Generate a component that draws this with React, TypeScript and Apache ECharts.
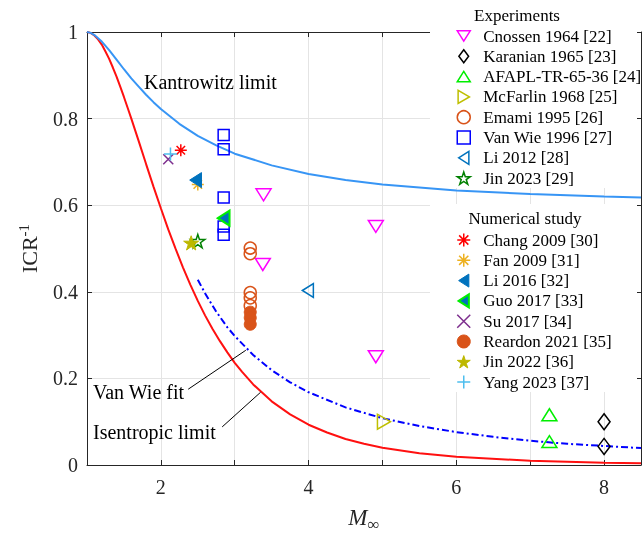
import React, { useEffect, useRef } from "react";
import * as echarts from "echarts";

const FONT = '"Liberation Serif", "Times New Roman", serif';

// Theoretical / fitted curves
const kantM = [1, 1.05, 1.1, 1.2, 1.3, 1.4, 1.5, 1.6, 1.7, 1.8, 1.9, 2, 2.25, 2.5, 2.75, 3, 3.5, 4, 4.5, 5, 6, 7, 8, 8.5];
const kantV = [1, 0.998, 0.993, 0.978, 0.958, 0.936, 0.914, 0.893, 0.874, 0.855, 0.838, 0.822, 0.788, 0.76, 0.738, 0.719, 0.692, 0.672, 0.658, 0.648, 0.634, 0.626, 0.62, 0.618];
const isoM = [1, 1.05, 1.1, 1.15, 1.2, 1.25, 1.3, 1.35, 1.4, 1.45, 1.5, 1.55, 1.6, 1.65, 1.7, 1.8, 1.9, 2, 2.1, 2.2, 2.3, 2.4, 2.5, 2.6, 2.7, 2.8, 2.9, 3, 3.1, 3.25, 3.5, 3.75, 4, 4.25, 4.5, 4.75, 5, 5.5, 6, 7, 8, 8.5];
const isoV = [1, 0.998, 0.992, 0.983, 0.971, 0.955, 0.938, 0.918, 0.897, 0.874, 0.85, 0.825, 0.8, 0.774, 0.748, 0.695, 0.643, 0.593, 0.544, 0.499, 0.456, 0.416, 0.379, 0.345, 0.314, 0.286, 0.26, 0.236, 0.215, 0.186, 0.147, 0.117, 0.093, 0.075, 0.06, 0.049, 0.04, 0.027, 0.019, 0.0096, 0.0053, 0.004];
const vwM = [2.5, 2.6, 2.75, 2.9, 3, 3.25, 3.5, 3.75, 4, 4.5, 5, 5.5, 6, 6.5, 7, 7.5, 8, 8.5];
const vwV = [0.428, 0.396, 0.354, 0.318, 0.298, 0.254, 0.219, 0.191, 0.168, 0.133, 0.108, 0.09, 0.076, 0.065, 0.056, 0.049, 0.044, 0.039];

// Experiments
const cnossen = [[3.39, 0.624], [3.38, 0.463], [4.91, 0.551], [4.91, 0.25]];
const karanian = [[8.0, 0.1], [8.0, 0.043]];
const afapl = [[7.26, 0.116], [7.26, 0.054]];
const mcfarlin = [[5.02, 0.1]];
const emami = [[3.21, 0.501], [3.21, 0.488], [3.21, 0.398], [3.21, 0.386], [3.21, 0.368]];
const vanwie = [[2.85, 0.762], [2.85, 0.729], [2.85, 0.618], [2.85, 0.551], [2.85, 0.532]];
const li2012 = [[3.99, 0.403]];
const jin2023 = [[2.5, 0.517]];
// Numerical study
const chang = [[2.27, 0.727]];
const fan = [[2.5, 0.648]];
const li2016 = [[2.47, 0.658]];
const guo = [[2.85, 0.57]];
const su = [[2.1, 0.706]];
const reardon = [[3.21, 0.353], [3.21, 0.34], [3.21, 0.325]];
const jin2022 = [[2.41, 0.513]];
const yang = [[2.13, 0.718]];

const expNames = ["Cnossen 1964 [22]", "Karanian 1965 [23]", "AFAPL-TR-65-36 [24]", "McFarlin 1968 [25]", "Emami 1995 [26]", "Van Wie 1996 [27]", "Li 2012 [28]", "Jin 2023 [29]"];
const numNames = ["Chang 2009 [30]", "Fan 2009 [31]", "Li 2016 [32]", "Guo 2017 [33]", "Su 2017 [34]", "Reardon 2021 [35]", "Jin 2022 [36]", "Yang 2023 [37]"];

const STAR = "path://M0,-10L2.245,-3.09L9.51,-3.09L3.633,1.18L5.88,8.09L0,3.82L-5.88,8.09L-3.633,1.18L-9.51,-3.09L-2.245,-3.09Z";
const AST = "path://M0,-10L0,10M-10,0L10,0M-7.07,-7.07L7.07,7.07M-7.07,7.07L7.07,-7.07";
const XS = "path://M-10,-10L10,10M-10,10L10,-10";
const PLUS = "path://M0,-10L0,10M-10,0L10,0";
const TRI_UP = "path://M0,-6L7.5,6L-7.5,6Z";
const TRI_DOWN = "path://M-7.5,-6L7.5,-6L0,6Z";
const TRI_LEFT = "path://M-5.5,0L5.5,-7L5.5,7Z";
const TRI_RIGHT = "path://M6.5,0L-6.5,-7.5L-6.5,7.5Z";
const DIAMOND = "path://M0,-8L6,0L0,8L-6,0Z";

const zip = (a: number[], b: number[]) => a.map((x, i) => [x, b[i]]);

function sc(name: string, data: number[][], symbol: string, size: number, fill: string, stroke: string, bw: number) {
  return {
    type: "scatter",
    name,
    data,
    symbol,
    symbolSize: size,
    symbolKeepAspect: true,
    silent: true,
    z: 6,
    itemStyle: { color: fill, borderColor: stroke, borderWidth: bw, opacity: 1 },
  };
}

export default function App() {
  const ref = useRef<HTMLDivElement>(null);
  useEffect(() => {
    if (!ref.current) return;
    const chart = echarts.init(ref.current, undefined, { renderer: "svg" });
    const T = "rgba(0,0,0,0)";
    const axisCol = "#262626";
    const gridCol = "#e4e4e4";
    const legendCommon = {
      orient: "vertical",
      left: 428,
      itemWidth: 13,
      itemHeight: 13,
      itemGap: 0.3,
      selectedMode: false,
      itemStyle: { borderWidth: "inherit" },
      textStyle: { fontFamily: FONT, fontSize: 17, color: "#000", lineHeight: 20, padding: [0, 0, 0, 8] },
    };
    chart.setOption({
      animation: false,
      grid: { left: 87, right: 2, top: 32, bottom: 70, containLabel: false },
      xAxis: [
        {
          type: "value", min: 1, max: 8.5, interval: 1, position: "bottom",
          axisLine: { show: true, onZero: false, lineStyle: { color: axisCol } },
          axisTick: { show: true, inside: true, length: 5, lineStyle: { color: axisCol } },
          axisLabel: { formatter: (v: number) => (v % 2 === 0 ? String(v) : ""), fontFamily: FONT, fontSize: 20, color: axisCol, margin: 12 },
          splitLine: { show: true, lineStyle: { color: gridCol } },
          name: "{m|M}{s|∞}", nameLocation: "middle", nameGap: 37,
          nameTextStyle: { rich: { m: { fontFamily: FONT, fontSize: 23, fontStyle: "italic", color: axisCol, lineHeight: 26 }, s: { fontFamily: FONT, fontSize: 17, color: axisCol, verticalAlign: "bottom", padding: [14, 0, 0, 0] } } },
        },
        {
          type: "value", min: 1, max: 8.5, interval: 1, position: "top",
          axisLine: { show: true, onZero: false, lineStyle: { color: axisCol } },
          axisTick: { show: true, inside: true, length: 5, lineStyle: { color: axisCol } },
          axisLabel: { show: false }, splitLine: { show: false },
        },
      ],
      yAxis: [
        {
          type: "value", min: 0, max: 1, interval: 0.2, position: "left",
          axisLine: { show: true, onZero: false, lineStyle: { color: axisCol } },
          axisTick: { show: true, inside: true, length: 5, lineStyle: { color: axisCol } },
          axisLabel: { fontFamily: FONT, fontSize: 20, color: axisCol, margin: 9 },
          splitLine: { show: true, lineStyle: { color: gridCol } },
          name: "{a|ICR}{b|-1}", nameLocation: "middle", nameGap: 44,
          nameTextStyle: { rich: { a: { fontFamily: FONT, fontSize: 22, color: axisCol, lineHeight: 26 }, b: { fontFamily: FONT, fontSize: 15, color: axisCol, verticalAlign: "top", padding: [0, 0, 12, 0] } } },
        },
        {
          type: "value", min: 0, max: 1, interval: 0.2, position: "right",
          axisLine: { show: true, onZero: false, lineStyle: { color: axisCol } },
          axisTick: { show: true, inside: true, length: 5, lineStyle: { color: axisCol } },
          axisLabel: { show: false }, splitLine: { show: false },
        },
      ],
      legend: [
        { ...legendCommon, top: 22, padding: [4, 0, 0, 28.5], data: expNames },
        { ...legendCommon, top: 203, padding: [27, 0, 0, 28.5], data: numNames },
      ],
      graphic: [
        { type: "rect", z: 1, shape: { x: 430, y: 22, width: 207, height: 166 }, style: { fill: "#fff" }, silent: true },
        { type: "rect", z: 1, shape: { x: 430, y: 204, width: 207, height: 188 }, style: { fill: "#fff" }, silent: true },
        { type: "text", z: 10, x: 517, y: 15, style: { text: "Experiments", font: `17px ${FONT}`, fill: "#000", align: "center", verticalAlign: "middle" } },
        { type: "text", z: 10, x: 525, y: 218, style: { text: "Numerical study", font: `17px ${FONT}`, fill: "#000", align: "center", verticalAlign: "middle" } },
        { type: "text", z: 10, x: 144, y: 82, style: { text: "Kantrowitz limit", font: `20px ${FONT}`, fill: "#000", align: "left", verticalAlign: "middle" } },
        { type: "text", z: 10, x: 93, y: 392, style: { text: "Van Wie fit", font: `20px ${FONT}`, fill: "#000", align: "left", verticalAlign: "middle" } },
        { type: "text", z: 10, x: 93, y: 432, style: { text: "Isentropic limit", font: `20px ${FONT}`, fill: "#000", align: "left", verticalAlign: "middle" } },
      ],
      series: [
        { type: "line", name: "Kantrowitz", data: zip(kantM, kantV), symbol: "none", silent: true, z: 5, lineStyle: { color: "#3795f5", width: 2 } },
        { type: "line", name: "Isentropic", data: zip(isoM, isoV), symbol: "none", silent: true, z: 3, lineStyle: { color: "#ff1010", width: 2 } },
        {
          type: "line", name: "VanWieFit", data: zip(vwM, vwV), symbol: "none", silent: true, z: 3,
          lineStyle: { color: "#0000ff", width: 2, type: [7, 3, 2, 3] },
          markLine: {
            silent: true, symbol: "none", label: { show: false },
            lineStyle: { color: "#000", width: 1, type: "solid" },
            data: [
              [{ coord: [2.37, 0.175] }, { coord: [3.15, 0.265] }],
              [{ coord: [2.83, 0.088] }, { coord: [3.35, 0.168] }],
            ],
          },
        },
        sc(expNames[0], cnossen, TRI_DOWN, 15, T, "#ff00ff", 1.5),
        sc(expNames[1], karanian, DIAMOND, 16, T, "#000000", 1.5),
        sc(expNames[2], afapl, TRI_UP, 15, T, "#00ee00", 1.5),
        sc(expNames[3], mcfarlin, TRI_RIGHT, 15, T, "#bfbf00", 1.5),
        sc(expNames[4], emami, "circle", 12, T, "#d95319", 1.5),
        sc(expNames[5], vanwie, "rect", 11, T, "#0000ff", 1.5),
        sc(expNames[6], li2012, TRI_LEFT, 14, T, "#0072bd", 1.5),
        sc(expNames[7], jin2023, STAR, 14, T, "#008000", 1.5),
        sc(numNames[0], chang, AST, 12, "#ff0000", "#ff0000", 1.5),
        sc(numNames[1], fan, AST, 12, "#edb120", "#edb120", 1.5),
        sc(numNames[2], li2016, TRI_LEFT, 15, "#0072bd", "#0072bd", 1),
        sc(numNames[3], guo, TRI_LEFT, 15, "#0072bd", "#00ee00", 2),
        sc(numNames[4], su, XS, 10, "#7e2f8e", "#7e2f8e", 1.5),
        sc(numNames[5], reardon, "circle", 12, "#d95319", "#d95319", 1),
        sc(numNames[6], jin2022, STAR, 15, "#bdb800", "#bdb800", 1),
        sc(numNames[7], yang, PLUS, 13, "#4dbeee", "#4dbeee", 1.5),
      ],
    });
    return () => chart.dispose();
  }, []);
  return <div ref={ref} style={{ position: "fixed", left: 0, top: 0, width: 644, height: 538 }} />;
}
